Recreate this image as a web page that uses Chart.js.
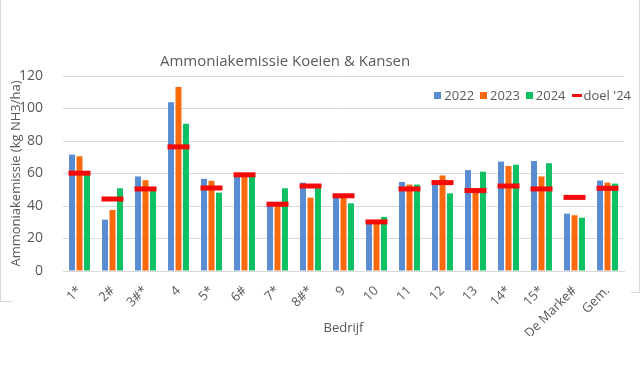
<!DOCTYPE html>
<html>
<head>
<meta charset="utf-8">
<script src="https://cdn.jsdelivr.net/npm/chart.js@4"></script>
<style>
    html, body { margin: 0; padding: 0; background: #fff; }
    #wrap { position: relative; width: 640px; height: 387px; font-family: "Open Sans", sans-serif; color: #595959; }
    #chartTitle { position: absolute; left: 160px; top: 50px; font-size: 15px; white-space: nowrap; }
    #legend { position: absolute; right: 9px; top: 86px; font-size: 13px; display: flex; align-items: center; }
    #legend .item { display: flex; align-items: center; margin-left: 6px; }
    #legend .box { width: 7px; height: 7px; margin-right: 3px; }
    #legend .line { width: 10px; height: 3px; margin-right: 2px; }
    .edge { position: absolute; background: #d9d9d9; }
</style>
</head>
<body>
<div id="wrap">
    <canvas id="emissieChart" width="640" height="387"></canvas>
    <div id="chartTitle">Ammoniakemissie Koeien &amp; Kansen</div>
    <div id="legend"></div>
    <div class="edge" style="left:0;top:0;width:1px;height:302px"></div>
    <div class="edge" style="left:0;top:301px;width:12px;height:1px"></div>
    <div class="edge" style="left:639px;top:0;width:1px;height:293px"></div>
    <div class="edge" style="left:631px;top:292px;width:9px;height:1px"></div>
</div>
<script>
const bedrijven = ['1*', '2#', '3#*', '4', '5*', '6#', '7*', '8#*', '9', '10', '11', '12', '13', '14*', '15*', 'De Marke#', 'Gem.'];
const emissie2022 = [71.6, 31.6, 58.2, 103.9, 56.7, 58.5, 40.5, 54.4, 45.5, 29.5, 54.8, 54.0, 62.1, 67.3, 67.7, 35.3, 55.7];
const emissie2023 = [70.6, 37.6, 55.9, 113.2, 55.5, 59.0, 40.5, 45.1, 45.5, 29.5, 53.2, 58.8, 49.0, 64.6, 58.2, 34.3, 54.4];
const emissie2024 = [59.5, 50.9, 49.5, 90.6, 48.2, 58.0, 50.9, 51.0, 41.6, 33.3, 53.2, 47.8, 61.1, 65.4, 66.3, 32.8, 53.8];
const doel2024 = [60.2, 44.3, 50.5, 76.4, 51.1, 59.2, 41.1, 52.3, 46.3, 30.2, 50.5, 54.4, 49.5, 52.3, 50.5, 45.3, 50.9];
const yTicks = [0, 20, 40, 60, 80, 100, 120];

const kleuren = { y2022: '#5A8CD2', y2023: '#F96A0C', y2024: '#0DC163', doel: '#F50A0A' };
const tekstKleur = '#595959';

const bar = (label, data, color) => ({
    label: label,
    data: data,
    backgroundColor: color,
    barPercentage: 0.8,
    categoryPercentage: 0.68,
    order: 1
});

const ctx = document.getElementById('emissieChart').getContext('2d');
const chart = new Chart(ctx, {
    type: 'bar',
    data: {
        labels: bedrijven,
        datasets: [
            bar('2022', emissie2022, kleuren.y2022),
            bar('2023', emissie2023, kleuren.y2023),
            bar('2024', emissie2024, kleuren.y2024),
            {
                type: 'line',
                label: "doel '24",
                data: doel2024,
                showLine: false,
                pointStyle: 'line',
                pointRadius: 11,
                pointHoverRadius: 11,
                borderWidth: 5,
                borderColor: kleuren.doel,
                backgroundColor: kleuren.doel,
                order: 0
            }
        ]
    },
    options: {
        responsive: false,
        animation: false,
        layout: { padding: { left: 4, right: 10, top: 76, bottom: 51 } },
        plugins: {
            legend: { display: false },
            title: { display: false },
            tooltip: { enabled: false }
        },
        scales: {
            x: {
                afterFit: (axis) => { axis.height = 65; },
                grid: { display: false, drawTicks: false },
                border: { color: '#d9d9d9' },
                ticks: {
                    color: tekstKleur,
                    font: { family: 'Open Sans', size: 13 },
                    minRotation: 45,
                    maxRotation: 45,
                    autoSkip: false,
                    padding: 12
                },
                title: {
                    display: true,
                    text: 'Bedrijf',
                    color: tekstKleur,
                    font: { family: 'Open Sans', size: 13 },
                    padding: { top: 4, bottom: 0 }
                }
            },
            y: {
                min: 0,
                max: 120,
                afterFit: (axis) => { axis.width = 59; },
                afterBuildTicks: (axis) => { axis.ticks = yTicks.map(v => ({ value: v })); },
                grid: { color: '#d9d9d9', drawTicks: false },
                border: { display: false },
                ticks: {
                    color: tekstKleur,
                    font: { family: 'Open Sans', size: 14 },
                    padding: 20
                },
                title: {
                    display: true,
                    text: 'Ammoniakemissie (kg NH3/ha)',
                    color: tekstKleur,
                    font: { family: 'Open Sans', size: 13 },
                    padding: { top: 4, bottom: 4 }
                }
            }
        }
    }
});

// legend built from the chart's own datasets
const legend = document.getElementById('legend');
chart.data.datasets.forEach(ds => {
    const item = document.createElement('div');
    item.className = 'item';
    const mark = document.createElement('span');
    mark.className = ds.type === 'line' ? 'line' : 'box';
    mark.style.background = ds.type === 'line' ? ds.borderColor : ds.backgroundColor;
    item.appendChild(mark);
    item.appendChild(document.createTextNode(ds.label));
    legend.appendChild(item);
});
</script>
</body>
</html>
